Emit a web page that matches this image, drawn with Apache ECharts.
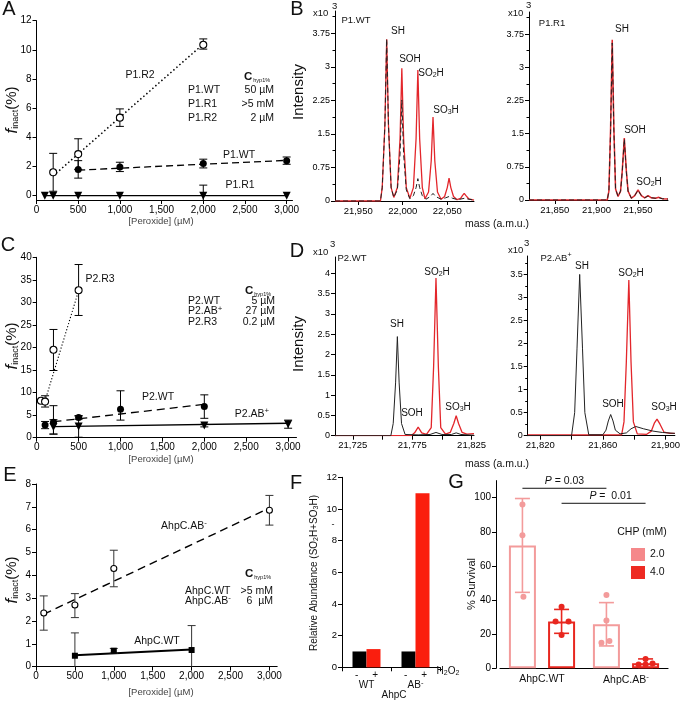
<!DOCTYPE html>
<html><head><meta charset="utf-8">
<script src="https://cdn.jsdelivr.net/npm/echarts@6/dist/echarts.min.js"></script>
<style>html,body{margin:0;padding:0;background:#fff}#c{width:683px;height:703px}</style>
</head><body><div id="c"></div>
<script>
const FONT='"Liberation Sans", Arial, Helvetica, sans-serif';

// ---------------- DATA ----------------
// Panel A  [peroxide, f_inact, err-, err+]
const aXTicks=[0,500,1000,1500,2000,2500,3000];
const aYTicks=[0,2,4,6,8,10,12];
const aR2=[[200,1.6,1.3,1.3],[500,2.85,1.05,1.05],[1000,5.35,0.6,0.6],[2000,10.35,0.3,0.4]];
const aWT=[[500,1.8,0.6,0.6],[1000,1.97,0.32,0.32],[2000,2.2,0.3,0.3],[3000,2.4,0.25,0.25]];
const aR1=[[100,0,0,0],[200,0,0,0],[500,0,0,0],[1000,0,0,0],[2000,0,0.7,0.72],[3000,0,0,0]];
const aFitR2=[[200,1.35],[2000,10.4]];
const aFitWT=[[500,1.75],[3000,2.42]];
const aFitR1=[[100,0],[3000,0]];

// Panel B  spectra [mass, intensity x10^3]
const bYTicks=[0,0.75,1.5,2.25,3,3.75];
const bLeftXTicks=[21950,22000,22050];
const bRightXTicks=[21850,21900,21950];
const bWTperox=[[21924,0],[21975,0],[21977,0.3],[21980,1.7],[21982,3.62],[21984,1.7],[21987,0.3],[21990,0.08],
 [21994,0.3],[21997,1.4],[21999,2.97],[22001,1.4],[22004,0.3],[22008,0.06],
 [22012,0.3],[22015,1.4],[22017,2.93],[22019,1.4],[22022,0.3],[22025,0.05],
 [22029,0.2],[22032,0.9],[22034,1.88],[22036,0.9],[22039,0.2],[22043,0.04],
 [22047,0.1],[22050,0.3],[22052,0.51],[22054,0.3],[22057,0.1],[22061,0.03],
 [22065,0.06],[22067,0.12],[22069,0.17],[22071,0.12],[22074,0.05],[22080,0.02]];
const bWTctrl=[[21924,0],[21975,0],[21977,0.3],[21980,1.7],[21982,3.62],[21984,1.7],[21987,0.3],[21990,0.08],
 [21994,0.25],[21997,1.05],[21999,2.26],[22001,1.05],[22004,0.25],[22008,0.05],
 [22012,0.12],[22015,0.3],[22017,0.5],[22019,0.3],[22022,0.12],[22026,0.04],
 [22031,0.1],[22034,0.17],[22037,0.1],[22043,0.04],[22048,0.07],[22052,0.1],[22056,0.06],[22062,0.03],[22069,0.06],[22080,0.02]];
const bR1perox=[[21819,0],[21913,0],[21915,0.2],[21917,1.6],[21919,3.62],[21921,1.6],[21923,0.25],[21926,0.08],
 [21929,0.2],[21931,0.65],[21933.5,1.4],[21936,0.65],[21938,0.2],[21942,0.04],[21946,0.1],[21950,0.23],[21954,0.1],
 [21958,0.05],[21962,0.1],[21966,0.05],[21971,0.04],[21975,0.06],[21979,0.03],[21986,0.02]];
const bR1ctrl=[[21819,0],[21913,0],[21915,0.2],[21917,1.55],[21919,3.55],[21921,1.55],[21923,0.25],[21926,0.08],
 [21929,0.2],[21931,0.63],[21933.5,1.38],[21936,0.63],[21938,0.2],[21942,0.04],[21946,0.1],[21950,0.22],[21954,0.1],
 [21958,0.05],[21962,0.09],[21966,0.05],[21971,0.04],[21975,0.05],[21979,0.03],[21986,0.02]];

// Panel C
const cYTicks=[0,5,10,15,20,25,30,35,40];
const cR3=[[50,8.2,0,0],[100,8.0,1.2,1.3],[200,19.5,4.6,4.5],[500,32.7,5.6,5.7]];
const cWT=[[100,2.8,0.8,0.8],[200,3.4,2.6,3.7],[500,4.5,0.4,0.4],[1000,6.3,2.4,4.1],[2000,6.9,2.6,2.6]];
const cAB=[[200,2.4,1.6,1.6],[500,2.5,2.4,2.3],[2000,2.7,0.3,0.3],[3000,3.0,0.9,0.9]];
const cFitR3=[[100,8.2],[500,32.6]];
const cFitWT=[[200,3.55],[2000,7.4]];
const cFitAB=[[200,2.45],[3000,3.2]];

// Panel D
const dLeftYTicks=[0,0.5,1,1.5,2,2.5,3,3.5,4];
const dRightYTicks=[0,0.5,1,1.5,2,2.5,3,3.5];
const dLeftXTicks=[21725,21750,21775,21800,21825];
const dLeftXLabels=[21725,21775,21825];
const dRightXTicks=[21820,21840,21860,21880,21900];
const dRightXLabels=[21820,21860,21900];
const dWTperox=[[21710,0],[21774,0],[21777,0.07],[21780,0.21],[21783,0.07],[21787,0.03],[21791,0.2],[21793,1.7],
 [21795,3.88],[21797,1.7],[21799,0.2],[21803,0.04],[21807,0.08],[21810,0.3],[21812,0.49],[21814,0.3],[21817,0.08],[21821,0.04],[21827,0.05]];
const dWTctrl=[[21710,0],[21757,0],[21759,0.3],[21761,1.3],[21762.5,2.44],[21764,1.3],[21766,0.3],[21769,0.03],
 [21780,0.02],[21790,0.03],[21795,0.08],[21800,0.03],[21808,0.03],[21812,0.07],[21816,0.03],[21827,0.01]];
const dABperox=[[21812,0.02],[21872,0.02],[21873.5,0.3],[21875,1.6],[21876.6,3.38],[21878,1.6],[21879.5,0.3],[21882,0.04],
 [21888,0.03],[21891,0.1],[21893,0.28],[21894.6,0.36],[21896.5,0.25],[21899,0.08],[21903,0.05],[21906,0.05]];
const dABctrl=[[21812,0],[21840,0],[21842,0.5],[21843.5,1.9],[21845.2,3.5],[21847,1.9],[21848.5,0.5],[21851,0.02],
 [21860,0.02],[21862,0.12],[21863.5,0.32],[21865,0.46],[21866.5,0.32],[21868,0.12],[21871,0.04],[21875,0.06],
 [21878,0.15],[21881,0.2],[21886,0.15],[21892,0.1],[21898,0.07],[21906,0.05]];

// Panel E
const eYTicks=[0,1,2,3,4,5,6,7,8];
const eAB=[[100,2.35,0.75,0.75],[500,2.7,0.55,0.5],[1000,4.3,0.8,0.8],[3000,6.85,0.65,0.65]];
const eWT=[[500,0.48,1.0,1.0],[1000,0.7,0.1,0.1],[2000,0.73,1.07,1.07]];
const eFitAB=[[100,2.3],[3000,6.95]];
const eFitWT=[[500,0.5],[2000,0.75]];

// Panel F
const fGroups=['WT','AB^-'];
const fNoH2O2=[1.0,1.0];
const fH2O2=[1.15,11.0];
const fYTicks=[0,2,4,6,8,10,12];

// Panel G
const gGroups=['AhpC.WT','AhpC.AB^-'];
const gMean2=[72,25.8], gSd2=[27.5,12.7];
const gMean4=[27.5,3.0], gSd4=[7.0,2.5];
const gDots2=[[96,78,42],[43,28,15,16]];
const gDots4=[[36,27.5,27.5,19.5],[5.5,2.3,2.3,2.8]];
const gYTicks=[0,20,40,60,80,100];
const gSigLevels=[105.5,96.7];
const gSigText=['P = 0.03','P =  0.01'];

// ---------------- HELPERS ----------------
const G_COL=['#f39b9b','#e8271f'];
const G_LEG=['#f5888a','#ee2a22'];
const G_BAR_W=27, G_BAR_GAP=0.45;
const G_JIT=[[[0,0,1],[0,0,-5,3]],[[0,-6,7,0],[0,-7,0,7]]]; // display jitter (px) for dots

function comma(v){return String(v).replace(/\B(?=(\d{3})+(?!\d))/g,',');}
function R(str){let out='',buf='';for(let i=0;i<str.length;i++){const ch=str[i];
  if((ch==='_'||ch==='^')&&i+1<str.length){if(buf){out+='{n|'+buf+'}';buf='';}out+='{'+(ch==='_'?'s':'u')+'|'+str[i+1]+'}';i++;}
  else buf+=ch;} if(buf)out+='{n|'+buf+'}';return out;}
function richSet(fs,col){col=col||'#111';return{
  n:{fontSize:fs,fontFamily:FONT,fill:col,color:col},
  s:{fontSize:fs*0.7,fontFamily:FONT,fill:col,color:col,padding:[fs*0.45,0,0,0]},
  u:{fontSize:fs*0.75,fontFamily:FONT,fill:col,color:col,padding:[0,0,fs*0.55,0]},
  pm:{fontSize:fs,fontFamily:FONT,fill:col,color:col}};}

function T(x,y,text,o){o=o||{};const fs=o.fs||10.5;return{type:'text',x:x,y:y,rotation:o.rot||0,z:100,silent:true,
  style:{text:o.raw?text:R(text),rich:richSet(fs,o.c),fontSize:fs,fontFamily:o.ff||FONT,fill:o.c||'#111',
  align:o.al||'center',verticalAlign:'middle'}};}

function valAxis(gi,min,max,ticks,labels,fs,extra){
  const ax={type:'value',gridIndex:gi,min:min,max:max,
    axisLine:{show:true,onZero:false,lineStyle:{color:'#000',width:1}},
    axisTick:{show:true,length:4,customValues:ticks,lineStyle:{color:'#000',width:1}},
    axisLabel:{show:true,customValues:labels,fontSize:fs,color:'#000',fontFamily:FONT,margin:5,formatter:comma},
    splitLine:{show:false}};
  return Object.assign(ax,extra||{});
}
function errBars(gi,pts,color,cap,lw){
  return{type:'custom',xAxisIndex:gi,yAxisIndex:gi,clip:true,silent:true,z:4,animation:false,
    data:pts.map(p=>[p[0],p[1]-p[2],p[1]+p[3]]),
    renderItem:function(params,api){
      const lo=api.value(1),hi=api.value(2);
      if(hi-lo<=0)return null;
      const a=api.coord([api.value(0),lo]),b=api.coord([api.value(0),hi]);
      const h=cap/2,st={stroke:color,lineWidth:lw};
      return{type:'group',children:[
        {type:'line',shape:{x1:a[0],y1:a[1],x2:b[0],y2:b[1]},style:st},
        {type:'line',shape:{x1:a[0]-h,y1:a[1],x2:a[0]+h,y2:a[1]},style:st},
        {type:'line',shape:{x1:b[0]-h,y1:b[1],x2:b[0]+h,y2:b[1]},style:st}]};
    }};
}
function marks(gi,arr,symbol,size,fill,rot){
  return{type:'scatter',xAxisIndex:gi,yAxisIndex:gi,z:6,symbol:symbol,symbolSize:size,symbolRotate:rot||0,
    data:arr.map(p=>[p[0],p[1]]),silent:true,animation:false,
    itemStyle:{color:fill,borderColor:'#000',borderWidth:fill==='#fff'?1.1:0,opacity:1}};
}
function fit(gi,arr,type,w){
  return{type:'line',xAxisIndex:gi,yAxisIndex:gi,data:arr,symbol:'none',showSymbol:false,z:3,silent:true,animation:false,
    lineStyle:{color:'#000',width:w,type:type}};
}
function trace(gi,arr,color,w,dash){
  return{type:'line',xAxisIndex:gi,yAxisIndex:gi,data:arr,symbol:'none',showSymbol:false,z:3,silent:true,animation:false,clip:true,
    lineStyle:{color:color,width:w,type:dash||'solid'}};
}

// ---------------- GRIDS ----------------
const grids=[
  {left:36.5,top:20.7,width:256,height:179.3},      //0 A
  {left:335,top:11,width:139,height:190},           //1 B left
  {left:529,top:12,width:139,height:188},           //2 B right
  {left:36.7,top:257.3,width:259.8,height:180.4},   //3 C
  {left:335,top:257,width:139,height:178.7},        //4 D left
  {left:527.7,top:256,width:152.3,height:179.7},    //5 D right
  {left:36,top:484,width:241.2,height:182.7},       //6 E
  {left:342,top:477.3,width:98,height:190},         //7 F
  {left:500,top:480.6,width:168,height:187.7}       //8 G
];

const xAxes=[
  valAxis(0,0,3070,aXTicks,aXTicks,10),
  valAxis(1,21924,22080,bLeftXTicks,bLeftXTicks,9.5),
  valAxis(2,21819,21986,bRightXTicks,bRightXTicks,9.5),
  valAxis(3,0,3100,aXTicks,aXTicks,10),
  valAxis(4,21710,21827,dLeftXTicks,dLeftXLabels,9.5),
  valAxis(5,21812,21906,dRightXTicks,dRightXLabels,9.5),
  valAxis(6,0,3100,aXTicks,aXTicks,10),
  {type:'category',gridIndex:7,data:fGroups,
    axisLine:{show:true,lineStyle:{color:'#000',width:1}},
    axisTick:{show:true,length:4,alignWithLabel:false,interval:0,lineStyle:{color:'#000'}},
    axisLabel:{interval:0,margin:3,lineHeight:10,formatter:v=>'{pm|-     +}\n'+R(v),rich:richSet(10)}},
  {type:'category',gridIndex:8,data:gGroups,
    axisLine:{show:true,lineStyle:{color:'#000',width:1.2}},
    axisTick:{show:false},
    axisLabel:{interval:0,margin:5,formatter:v=>R(v),rich:richSet(10.5)}}
];
const yAxes=[
  valAxis(0,-0.3,12,aYTicks,aYTicks,10),
  valAxis(1,0,4.25,bYTicks,bYTicks,9,{interval:0.75,minorTick:{show:true,splitNumber:2,length:2.5,lineStyle:{color:'#000'}}}),
  valAxis(2,0,4.25,bYTicks,bYTicks,9,{interval:0.75,minorTick:{show:true,splitNumber:2,length:2.5,lineStyle:{color:'#000'}}}),
  valAxis(3,0,40,cYTicks,cYTicks,10),
  valAxis(4,0,4.4,dLeftYTicks,dLeftYTicks,9),
  valAxis(5,0,3.9,dRightYTicks,dRightYTicks,9,{interval:0.5,minorTick:{show:true,splitNumber:2,length:2.5,lineStyle:{color:'#000'}}}),
  valAxis(6,0,8,eYTicks,eYTicks,10),
  valAxis(7,0,12,fYTicks,fYTicks,9.5),
  valAxis(8,0,110,gYTicks,gYTicks,10,{offset:4})
];

// ---------------- SERIES ----------------
const series=[
  // A
  fit(0,aFitR2,[1.5,2.5],1.5), fit(0,aFitWT,[7,4],1.3), fit(0,aFitR1,'solid',1.3),
  errBars(0,aR2,'#000',8,1), errBars(0,aWT,'#000',8,1), errBars(0,aR1,'#000',8,1),
  marks(0,aR2,'circle',7,'#fff'), marks(0,aWT,'circle',7,'#000'), marks(0,aR1,'triangle',8,'#000',180),
  // B
  trace(1,bWTperox,'#e3262b',1.3), trace(1,bWTctrl,'#222',1,[5,3]),
  trace(2,bR1perox,'#e3262b',1.5), trace(2,bR1ctrl,'#222',1,[5,3]),
  // C
  fit(3,cFitR3,[1.2,2],1.1), fit(3,cFitWT,[8,5],1.3), fit(3,cFitAB,'solid',1.3),
  errBars(3,cR3,'#000',8,1), errBars(3,cWT,'#000',8,1), errBars(3,cAB,'#000',8,1),
  marks(3,cR3,'circle',7,'#fff'), marks(3,cWT,'circle',7,'#000'), marks(3,cAB,'triangle',8,'#000',180),
  // D
  trace(4,dWTperox,'#e3262b',1.3), trace(4,dWTctrl,'#222',1),
  trace(5,dABperox,'#e3262b',1.3), trace(5,dABctrl,'#222',1),
  // E
  fit(6,eFitAB,[8,5],1.4), fit(6,eFitWT,'solid',2),
  errBars(6,eAB,'#333',8,1), errBars(6,eWT,'#333',8,1),
  marks(6,eAB,'circle',6,'#fff'), marks(6,eWT,'rect',6,'#000'),
  // F
  {type:'bar',xAxisIndex:7,yAxisIndex:7,name:'-',data:fNoH2O2,barWidth:14,barGap:'0%',itemStyle:{color:'#000'},silent:true,animation:false},
  {type:'bar',xAxisIndex:7,yAxisIndex:7,name:'+',data:fH2O2,barWidth:14,barGap:'0%',itemStyle:{color:'#fa1e0e'},silent:true,animation:false},
  // G bars
  {type:'bar',xAxisIndex:8,yAxisIndex:8,name:'2.0',data:gMean2,barWidth:G_BAR_W,barGap:(G_BAR_GAP*100)+'%',z:2,
    itemStyle:{color:'rgba(255,255,255,0)',borderColor:G_COL[0],borderWidth:2},silent:true,animation:false},
  {type:'bar',xAxisIndex:8,yAxisIndex:8,name:'4.0',data:gMean4,barWidth:G_BAR_W,barGap:(G_BAR_GAP*100)+'%',z:2,
    itemStyle:{color:'rgba(255,255,255,0)',borderColor:G_COL[1],borderWidth:2},silent:true,animation:false},
  // G error bars
  {type:'custom',xAxisIndex:8,yAxisIndex:8,z:5,silent:true,animation:false,
    data:gGroups.map((g,i)=>[i,gMean2[i],gSd2[i],0]).concat(gGroups.map((g,i)=>[i,gMean4[i],gSd4[i],1])),
    renderItem:function(p,api){
      const ci=api.value(0),m=api.value(1),sd=api.value(2),s=api.value(3);
      const off=(s?1:-1)*G_BAR_W*(1+G_BAR_GAP)/2;
      const x=api.coord([ci,m])[0]+off, t=api.coord([ci,m+sd])[1], b=api.coord([ci,Math.max(0,m-sd)])[1];
      const st={stroke:G_COL[s],lineWidth:1.6};
      return{type:'group',children:[
        {type:'line',shape:{x1:x,y1:t,x2:x,y2:b},style:st},
        {type:'line',shape:{x1:x-7.5,y1:t,x2:x+7.5,y2:t},style:st},
        {type:'line',shape:{x1:x-7.5,y1:b,x2:x+7.5,y2:b},style:st}]};
    }},
  // G dots
  {type:'custom',xAxisIndex:8,yAxisIndex:8,z:6,silent:true,animation:false,
    data:(function(){const d=[];[gDots2,gDots4].forEach((set,s)=>set.forEach((vals,ci)=>vals.forEach((v,k)=>d.push([ci,v,s,k]))));return d;})(),
    renderItem:function(p,api){
      const ci=api.value(0),v=api.value(1),s=api.value(2),k=api.value(3);
      const off=(s?1:-1)*G_BAR_W*(1+G_BAR_GAP)/2 + G_JIT[s][ci][k];
      const c=api.coord([ci,v]);
      return{type:'circle',shape:{cx:c[0]+off,cy:c[1],r:3},style:{fill:G_COL[s]}};
    }},
  // G significance brackets
  {type:'custom',xAxisIndex:8,yAxisIndex:8,z:6,silent:true,animation:false,clip:false,
    data:gSigLevels.map((lv,i)=>[0,lv,i]),
    renderItem:function(p,api){
      const lv=api.value(1),s=api.value(2);
      const off=(s?1:-1)*G_BAR_W*(1+G_BAR_GAP)/2;
      const a=api.coord([0,lv]),b=api.coord([1,lv]);
      const x1=a[0]+off,x2=b[0]+off;
      const txt=gSigText[p.dataIndex].replace(/^P/,'{i|P}{n|').concat('}');
      return{type:'group',children:[
        {type:'line',shape:{x1:x1,y1:a[1],x2:x2,y2:a[1]},style:{stroke:'#111',lineWidth:1}},
        {type:'text',x:(x1+x2)/2+(s?7:0),y:a[1]-7,style:{text:txt,align:'center',verticalAlign:'middle',
          rich:{i:{fontStyle:'italic',fontSize:10.5,fontFamily:FONT,fill:'#111'},n:{fontSize:10.5,fontFamily:FONT,fill:'#111'}}}}]};
    }}
];

// ---------------- TEXT ----------------
const finact='{f|f}{s|inact}{p|(%)}';
const finRich={f:{fontSize:17,fontStyle:'italic',fontFamily:FONT,fill:'#111'},s:{fontSize:9,fontFamily:FONT,fill:'#111',padding:[7,0,0,0]},p:{fontSize:15,fontFamily:FONT,fill:'#111'}};
function yTitle(x,y){return{type:'text',x:x,y:y,rotation:Math.PI/2,z:100,silent:true,style:{text:finact,rich:finRich,align:'center',verticalAlign:'middle'}};}
const chyp='{c|C}{s|hyp1%}';
const chypRich={c:{fontSize:11.5,fontWeight:'bold',fontFamily:FONT,fill:'#111'},s:{fontSize:5.5,fontFamily:FONT,fill:'#111',padding:[6,0,0,1]}};
function chypT(x,y){return{type:'text',x:x,y:y,z:100,silent:true,style:{text:chyp,rich:chypRich,align:'left',verticalAlign:'middle'}};}
const INT_FONT='"Liberation Sans Narrow", "Liberation Sans", Arial, sans-serif';

const graphic=[
  // panel letters
  T(9,9,'A',{fs:20}),T(297,9,'B',{fs:20}),T(8,245,'C',{fs:20}),T(297,251,'D',{fs:20}),
  T(10,475,'E',{fs:20}),T(296,483,'F',{fs:20}),T(456,482,'G',{fs:20}),
  // A
  yTitle(12,110),
  T(161,221,'[Peroxide] (µM)',{fs:9.5,c:'#444'}),
  T(140,75,'P1.R2'),chypT(244,77),
  T(188,90,'P1.WT',{al:'left'}),T(274,90,'50 µM',{al:'right'}),
  T(188,104,'P1.R1',{al:'left'}),T(274,104,'>5 mM',{al:'right'}),
  T(188,118,'P1.R2',{al:'left'}),T(274,118,'2 µM',{al:'right'}),
  T(239,155,'P1.WT'),T(240,185,'P1.R1'),
  // B
  T(313,13,'x10',{fs:9.5,al:'left'}),T(332,6,'3',{fs:9.5,al:'left'}),
  T(508,13,'x10',{fs:9.5,al:'left'}),T(526,5,'3',{fs:9.5,al:'left'}),
  {type:'text',x:299,y:92,rotation:Math.PI/2,z:100,silent:true,style:{text:'Intensity',fontSize:15,fontFamily:INT_FONT,fill:'#111',align:'center',verticalAlign:'middle'}},
  T(356,20,'P1.WT',{fs:9.5}),T(398,31,'SH',{fs:10}),T(410,59,'SOH',{fs:10}),T(431,73,'SO_2H',{fs:10}),T(446,110,'SO_3H',{fs:10}),
  T(552,23,'P1.R1',{fs:9.5}),T(622,29,'SH',{fs:10}),T(635,130,'SOH',{fs:10}),T(649,182,'SO_2H',{fs:10}),
  T(497,224,'mass (a.m.u.)',{fs:10.5}),
  // C
  yTitle(12,346),
  T(161,459,'[Peroxide] (µM)',{fs:9.5,c:'#444'}),
  T(100,279,'P2.R3'),chypT(245,291),
  T(188,301,'P2.WT',{al:'left'}),T(275,301,'5 µM',{al:'right'}),
  T(188,311.5,'P2.AB^+',{al:'left'}),T(275,311.5,'27 µM',{al:'right'}),
  T(188,322,'P2.R3',{al:'left'}),T(275,322,'0.2 µM',{al:'right'}),
  T(158,397,'P2.WT'),T(252,414,'P2.AB^+'),
  // D
  T(313,252,'x10',{fs:9.5,al:'left'}),T(330,244,'3',{fs:9.5,al:'left'}),
  T(508,250,'x10',{fs:9.5,al:'left'}),T(524,243,'3',{fs:9.5,al:'left'}),
  {type:'text',x:299,y:344,rotation:Math.PI/2,z:100,silent:true,style:{text:'Intensity',fontSize:15,fontFamily:INT_FONT,fill:'#111',align:'center',verticalAlign:'middle'}},
  T(352,258,'P2.WT',{fs:9.5}),T(437,272,'SO_2H',{fs:10}),T(397,324,'SH',{fs:10}),T(412,413,'SOH',{fs:10}),T(458,407,'SO_3H',{fs:10}),
  T(556,258,'P2.AB^+',{fs:9.5}),T(582,266,'SH',{fs:10}),T(631,273,'SO_2H',{fs:10}),T(613,404,'SOH',{fs:10}),T(664,407,'SO_3H',{fs:10}),
  T(497,464,'mass (a.m.u.)',{fs:10.5}),
  // E
  yTitle(12,580),
  T(161,692,'[Peroxide] (µM)',{fs:9.5,c:'#444'}),
  T(184,526,'AhpC.AB^-'),chypT(245,574),
  T(185,591,'AhpC.WT',{al:'left'}),T(273,591,'>5 mM',{al:'right'}),
  T(185,601,'AhpC.AB^-',{al:'left'}),T(273,601,'6  µM',{al:'right'}),
  T(157,641,'AhpC.WT'),
  // F
  {type:'text',x:314,y:573,rotation:Math.PI/2,z:100,silent:true,style:{text:R('Relative Abundance (SO_2H+SO_3H)'),rich:richSet(10),align:'center',verticalAlign:'middle'}},
  T(333,525,'-',{fs:9}),
  T(448,671,'H_2O_2',{fs:10}),T(394,695,'AhpC',{fs:10}),
  // G
  {type:'text',x:472,y:584,rotation:Math.PI/2,z:100,silent:true,style:{text:'% Survival',fontSize:11,fontFamily:FONT,fill:'#111',align:'center',verticalAlign:'middle'}},
  T(642,532,'CHP (mM)',{fs:10.5})
];

const chart=echarts.init(document.getElementById('c'),null,{renderer:'canvas'});
chart.setOption({
  animation:false,backgroundColor:'#fff',
  textStyle:{fontFamily:FONT},
  grid:grids,xAxis:xAxes,yAxis:yAxes,series:series,graphic:graphic,
  legend:{show:true,orient:'vertical',left:626,top:543,itemWidth:14,itemHeight:13,itemGap:5,icon:'rect',selectedMode:false,
    textStyle:{fontSize:10.5,color:'#111',fontFamily:FONT},
    data:[{name:'2.0',itemStyle:{color:G_LEG[0],borderWidth:0}},{name:'4.0',itemStyle:{color:G_LEG[1],borderWidth:0}}]}
});
</script></body></html>
